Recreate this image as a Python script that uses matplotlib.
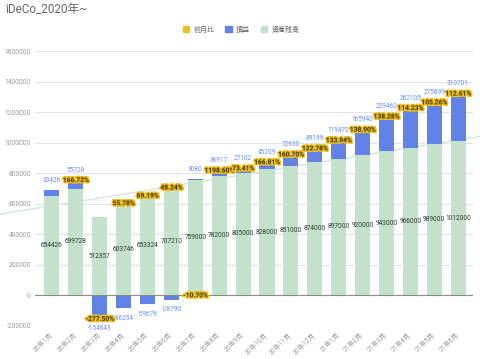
import matplotlib
matplotlib.use("Agg")
import matplotlib.pyplot as plt
import matplotlib.patheffects as pe
import numpy as np

plt.rcParams['font.family'] = ['Roboto', 'Noto Sans CJK JP', 'DejaVu Sans']

months = ["20年1月", "20年2月", "20年3月", "20年4月", "20年5月", "20年6月", "20年7月",
          "20年8月", "20年9月", "20年10月", "20年11月", "20年12月", "21年1月", "21年2月",
          "21年3月", "21年4月", "21年5月", "21年6月"]
balance = [654426, 699728, 512357, 603746, 653324, 707210, 759000, 782000, 805000,
           828000, 851000, 874000, 897000, 920000, 943000, 966000, 989000, 1012000]
profit = [33426, 55728, -154643, -86254, -59676, -28790, 3080, 36917, 27102, 45209,
          72650, 89199, 119470, 165940, 229462, 262105, 275899, 310701]
mom_pct = [None, 166.72, -277.50, 55.78, 69.19, 48.24, -10.70, 1198.60, 73.41, 166.81,
           160.70, 122.78, 133.94, 138.90, 138.28, 114.23, 105.26, 112.61]

C_GREEN = "#c4e2cb"
C_BLUE = "#6282e6"
C_YELLOW = "#eebf20"
C_BLUE_TXT = "#6d8ef0"
C_GRAY = "#9a9a9a"

fig = plt.figure(figsize=(4.8, 3.59), dpi=100)
ax = fig.add_axes([35/480, 33.2/359, 438/480, 274.5/359])

x = np.arange(len(months))
bal = np.array(balance, dtype=float)
prof = np.array(profit, dtype=float)
w = 0.63

ax.bar(x, bal, width=w, color=C_GREEN, zorder=2, label="資産残高")
pos_bottom = np.where(prof >= 0, bal, 0)
ax.bar(x, prof, width=w, bottom=pos_bottom, color=C_BLUE, zorder=2, label="損益")

# trendline of balance (behind bars)
coef = np.polyfit(x, bal, 1)
tx = np.array([-2.2, 17.95])
ax.plot(tx, np.polyval(coef, tx), color="#cfe5d5", lw=0.9, zorder=1.5, clip_on=False)

# labels
for i in range(len(months)):
    ax.text(x[i], bal[i] / 2, f"{balance[i]}", ha="center", va="center",
            fontsize=4.7, color="#2e3a30", zorder=5)
    if prof[i] >= 0:
        top = bal[i] + prof[i]
        ax.annotate(f"{profit[i]}", (x[i], top), xytext=(0, 7), textcoords="offset points",
                    ha="center", va="center", fontsize=4.7, color=C_BLUE_TXT, zorder=5)
    else:
        top = prof[i]
        ax.annotate(f"{profit[i]}", (x[i], top), xytext=(0, -7), textcoords="offset points",
                    ha="center", va="center", fontsize=4.7, color=C_BLUE_TXT, zorder=5)
    p = mom_pct[i]
    if p is not None:
        if p >= 0:
            yy = bal[i] + max(prof[i], 0)
        else:
            yy = min(prof[i], 0)
        ax.text(x[i], yy, f"{p:.2f}%", ha="center", va="center", fontsize=4.8,
                fontweight="bold", color="#3b3000", zorder=6,
                path_effects=[pe.withStroke(linewidth=2.2, foreground=C_YELLOW)])

ax.set_xlim(-0.71, 17.62)
ax.set_ylim(-200000, 1600000)
ax.set_yticks(np.arange(-200000, 1600001, 200000))
ax.set_yticklabels([str(v) for v in range(-200000, 1600001, 200000)])
ax.grid(axis="y", color="#e3e3e3", lw=0.8, zorder=0)
ax.axhline(0, color="#8a8a8a", lw=0.8, zorder=4)
for s in ax.spines.values():
    s.set_visible(False)
ax.tick_params(axis="y", length=0, pad=3, labelsize=4.8, labelcolor=C_GRAY)
ax.set_xticks(x)
ax.set_xticklabels(months, rotation=45, ha="right", va="center", rotation_mode="anchor",
                   fontsize=4.8, color=C_GRAY)
ax.tick_params(axis="x", length=0, pad=6)

# legend
from matplotlib.patches import Patch
handles = [Patch(color=C_YELLOW, label="前月比"), Patch(color=C_BLUE, label="損益"),
           Patch(color=C_GREEN, label="資産残高")]
fig.legend(handles=handles, loc="center", bbox_to_anchor=(241/480, 1 - 30/359), ncol=3,
           frameon=False, fontsize=5, handlelength=0.9, handleheight=0.9,
           handletextpad=0.6, columnspacing=1.6, labelcolor="#666666")

fig.text(5/480, 1 - 10/359, "iDeCo_2020年~", fontsize=8.5, color="#666666",
         ha="left", va="center")

fig.savefig("out.png", dpi=100)
